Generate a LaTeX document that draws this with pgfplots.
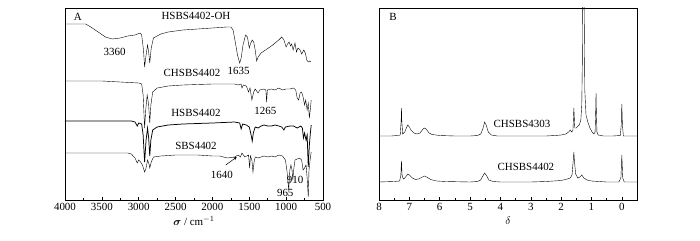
\documentclass[border=0pt]{standalone}
\usepackage{fontspec}
\setmainfont{Liberation Serif}
\usepackage{amsmath}
\usepackage{bm}
\usepackage{pgfplots}
\pgfplotsset{compat=1.18}
\newcommand\ff{\fontsize{11}{13}\selectfont}
\begin{document}
\begin{tikzpicture}[x=1bp,y=1bp]
\path[use as bounding box] (0,0) rectangle (700,240);
\pgfplotsset{
  myax/.style={
    scale only axis, width=258bp, height=192bp,
    x dir=reverse, ymin=0, ymax=192, ytick=\empty,
    xtick pos=left, tick align=inside,
    major tick length=3bp, minor tick length=1.8bp,
    minor x tick num=1,
    axis line style={black, line width=0.6pt},
    every tick/.style={black, line width=0.5pt},
    xticklabel style={font=\ff},
    /pgf/number format/assume math mode=true,
    /pgf/number format/set thousands separator={},
    xlabel style={at={(axis description cs:0.5,0)}, anchor=center, yshift=-21bp, font=\ff},
    cycle list={{black, mark=none, line width=0.75pt}},
  }
}
\begin{axis}[myax, at={(65bp,40bp)}, anchor=south west,
  xmin=500, xmax=4000, xtick={4000,3500,...,500},
  xlabel={$\bm{\sigma}$ / cm$^{-1}$}]
% HSBS4402-OH
\addplot table {
4000 176
3720 176
3650 173
3550 168
3450 163
3360 161
3250 162
3150 164
3050 165
2980 167
2960 165
2935 150
2920 133
2900 145
2880 155
2865 148
2850 137
2830 152
2800 162
2700 166
2600 168
2400 170
2200 171
2000 172
1800 173
1750 173
1720 170
1690 158
1660 145
1630 137
1610 142
1585 155
1550 165
1525 163
1500 152
1485 156
1460 160
1440 158
1420 150
1400 139
1380 143
1340 147
1280 150
1200 154
1150 157
1100 160
1060 163
1030 160
1000 153
980 156
960 158
940 154
925 156
905 150
880 157
860 148
840 152
810 150
790 146
760 150
740 147
720 140
700 138
680 139
665 138
};
% CHSBS4402
\addplot table {
4000 119
3500 119
3000 117
2960 116
2940 105
2920 72
2905 90
2885 105
2865 95
2850 77
2835 95
2810 108
2750 112
2600 114
2400 115
2000 116
1700 116
1650 115
1610 116
1600 112
1580 115
1540 114
1510 108
1490 112
1465 100
1440 108
1420 111
1380 107
1360 110
1300 111
1275 110
1265 98
1255 110
1200 111
1150 110
1100 112
1050 110
1000 111
950 111
900 112
870 110
850 102
830 100
810 107
790 108
770 103
750 95
735 100
715 90
700 97
685 82
670 92
660 100
};
% HSBS4402
\addplot table {
4000 79
3100 79
3050 78
3020 74
3000 77
2960 76
2940 65
2920 38
2900 60
2880 72
2865 62
2850 44
2835 60
2810 70
2750 73
2600 75
2400 76
2000 77
1700 78
1630 77
1610 71
1590 76
1540 75
1500 73
1475 65
1460 59
1445 67
1420 73
1380 72
1340 74
1300 75
1250 74
1200 74
1150 75
1100 74
1060 73
1030 70
1010 73
950 74
900 74
850 72
800 74
780 72
765 62
750 67
730 60
715 65
700 33
685 55
670 68
660 75
};
% SBS4402
\addplot table {
4000 47
3150 47
3100 46
3050 42
3020 37
3000 40
2975 38
2950 35
2920 28
2900 32
2880 40
2860 36
2850 32
2830 38
2800 43
2700 44
2500 45
2200 45
2000 44
1900 44
1800 42
1700 43
1650 45
1620 43
1600 47
1560 43
1510 45
1495 32
1485 44
1465 40
1450 28
1435 38
1420 43
1380 42
1300 44
1250 43
1200 44
1150 43
1100 45
1050 44
1010 40
990 30
965 10
950 30
935 35
920 30
910 20
895 32
880 40
820 42
790 40
770 30
750 32
730 35
715 22
700 3
690 30
675 40
660 48
};
\node[font=\ff] at (axis cs:3825,183) {A};
\node[font=\ff] at (axis cs:2223,184) {HSBS4402-OH};
\node[font=\ff] at (axis cs:3327,148) {3360};
\node[font=\ff] at (axis cs:1644,129) {1635};
\node[font=\ff] at (axis cs:2277,127) {CHSBS4402};
\node[font=\ff] at (axis cs:1281,89) {1265};
\node[font=\ff] at (axis cs:2223,87) {HSBS4402};
\node[font=\ff] at (axis cs:2223,54) {SBS4402};
\node[font=\ff] at (axis cs:1873,25) {1640};
\node[font=\ff] at (axis cs:1012,7) {965};
\node[font=\ff] at (axis cs:877,20) {910};
\draw[-stealth, line width=0.5pt] (axis cs:1819,35) -- (axis cs:1671,43);
\end{axis}
\begin{axis}[myax, at={(379bp,40bp)}, anchor=south west,
  xmin=-0.5, xmax=8, xtick={8,7,...,0},
  xlabel={$\delta$}]
% CHSBS4303
\addplot table {
8.00 64
7.60 64
7.40 64.5
7.30 65
7.27 80
7.26 92
7.25 80
7.22 66
7.15 68
7.10 72
7.05 75
7.00 73
6.95 70
6.85 67
6.75 66
6.65 67
6.55 71
6.50 72
6.45 71
6.35 67
6.25 65.5
6.00 64.5
5.50 64
5.00 64
4.75 64.5
4.65 66
4.58 71
4.52 78
4.47 75
4.40 68
4.30 65
4.10 64
3.50 64
3.00 64
2.50 64
2.20 64.5
2.00 65
1.85 66
1.75 68
1.70 70
1.65 68
1.61 70
1.59 85
1.58 92
1.57 85
1.55 72
1.50 72
1.45 74
1.40 75
1.35 80
1.32 95
1.30 140
1.28 260
1.26 260
1.24 190
1.22 110
1.18 85
1.12 78
1.05 72
0.98 68
0.92 66
0.88 68
0.86 90
0.85 107
0.84 90
0.82 68
0.78 65
0.60 64
0.30 64
0.05 64.5
0.02 75
0.00 96
-0.02 75
-0.05 64
-0.50 64
};
% CHSBS4402
\addplot table {
8.00 18
7.50 18.5
7.32 19
7.28 25
7.26 39
7.24 25
7.20 21
7.15 22
7.10 24
7.05 26
7.00 25
6.90 22
6.80 20.5
6.70 21
6.60 22.5
6.50 24
6.40 22.5
6.30 20.5
6.10 19
5.80 18.5
5.00 18
4.75 18.5
4.65 20
4.58 24
4.52 27
4.45 24
4.38 20
4.25 18.5
4.00 18
3.00 18
2.50 18.5
2.00 19.5
1.80 21
1.70 22
1.64 25
1.60 40
1.58 48
1.56 38
1.52 26
1.45 22
1.38 23
1.32 25
1.25 22
1.15 20
1.00 19
0.50 18
0.10 18
0.03 22
0.00 45
-0.03 22
-0.08 18
-0.50 18
};
\node[font=\ff] at (axis cs:7.54,183) {B};
\node[font=\ff] at (axis cs:3.29,76) {CHSBS4303};
\node[font=\ff] at (axis cs:3.16,33) {CHSBS4402};
\end{axis}
\end{tikzpicture}
\end{document}
